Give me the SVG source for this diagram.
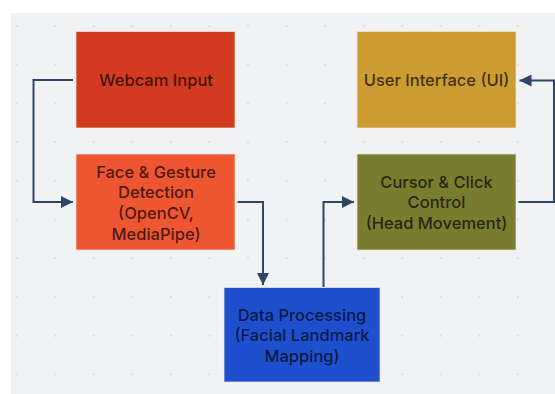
<svg xmlns="http://www.w3.org/2000/svg" width="555" height="394" viewBox="0 0 555 394">
  <defs>
    <pattern id="dots" x="16.7" y="26" width="38.55" height="38.7" patternUnits="userSpaceOnUse">
      <circle cx="0" cy="0" r="1.1" fill="#d6d8dc"/>
      <circle cx="38.55" cy="0" r="1.1" fill="#d6d8dc"/>
      <circle cx="0" cy="38.7" r="1.1" fill="#d6d8dc"/>
      <circle cx="38.55" cy="38.7" r="1.1" fill="#d6d8dc"/>
    </pattern>
    <marker id="arrow" viewBox="0 0 12 12" refX="12" refY="6" markerWidth="12" markerHeight="12" markerUnits="userSpaceOnUse" orient="auto">
      <path d="M0,0 L12,6 L0,12 Z" fill="#2e4563"/>
    </marker>
  </defs>
  <style>
    .box { stroke: #f3ead8; stroke-width: 1; stroke-opacity: 0.7; }
    .lbl { font-family: Inter, "Liberation Sans", sans-serif; font-size: 16.5px; font-weight: 500; fill: #000; fill-opacity: 0.7; text-anchor: middle; dominant-baseline: central; }
    .conn { fill: none; stroke: #2e4563; stroke-width: 2; }
  </style>
  <rect x="0" y="0" width="555" height="394" fill="#ffffff"/>
  <rect x="11" y="13" width="544" height="381" fill="#f1f2f4"/>
  <rect x="11" y="13" width="544" height="381" fill="url(#dots)"/>

  <g id="connectors">
    <path class="conn" d="M73,80 H33.5 V202 H73" marker-end="url(#arrow)"/>
    <path class="conn" d="M237.5,202 H263 V285" marker-end="url(#arrow)"/>
    <path class="conn" d="M323.5,287 V202 H354" marker-end="url(#arrow)"/>
    <path class="conn" d="M518.5,202 H554 V80.5 H519.5" marker-end="url(#arrow)"/>
  </g>

  <g id="webcam">
    <rect class="box" x="76" y="31.5" width="159" height="96.5" fill="#d23b1f"/>
    <text class="lbl" x="156" y="80">Webcam Input</text>
  </g>
  <g id="face">
    <rect class="box" x="76" y="154" width="159" height="96" fill="#ee5531"/>
    <text class="lbl" x="156" y="171.5">Face &amp; Gesture</text>
    <text class="lbl" x="156" y="192.3">Detection</text>
    <text class="lbl" x="156" y="213">(OpenCV,</text>
    <text class="lbl" x="156" y="233.7">MediaPipe)</text>
  </g>
  <g id="ui">
    <rect class="box" x="357" y="31.5" width="159" height="96.5" fill="#cc9c31"/>
    <text class="lbl" x="436.5" y="80">User Interface (UI)</text>
  </g>
  <g id="cursor">
    <rect class="box" x="357" y="154" width="159" height="96" fill="#797b2f"/>
    <text class="lbl" x="436.5" y="181.7">Cursor &amp; Click</text>
    <text class="lbl" x="436.5" y="202.3">Control</text>
    <text class="lbl" x="436.5" y="222.8">(Head Movement)</text>
  </g>
  <g id="data">
    <rect class="box" x="224" y="287.5" width="156" height="94.5" fill="#1e4fcf"/>
    <text class="lbl" x="302" y="314.5">Data Processing</text>
    <text class="lbl" x="302" y="335">(Facial Landmark</text>
    <text class="lbl" x="302" y="355.8">Mapping)</text>
  </g>
</svg>
